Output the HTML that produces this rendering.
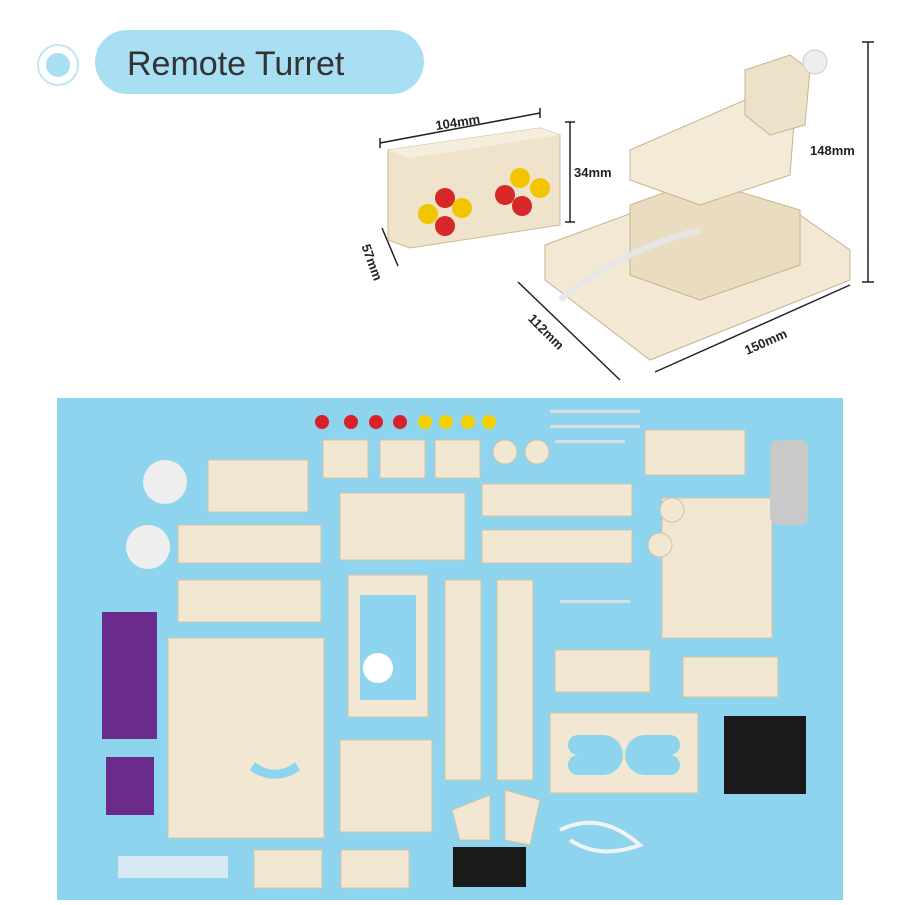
<!DOCTYPE html>
<html><head><meta charset="utf-8"><style>
body{margin:0;background:#fff;width:900px;height:900px;overflow:hidden;font-family:"Liberation Sans",sans-serif}
</style></head><body>
<svg width="900" height="900" viewBox="0 0 900 900" xmlns="http://www.w3.org/2000/svg">
<rect width="900" height="900" fill="#fff"/>
<circle cx="58" cy="65" r="20" fill="#fff" stroke="#bfe6f5" stroke-width="2"/>
<circle cx="58" cy="65" r="12" fill="#a9dff3"/>
<rect x="95" y="30" width="329" height="64" rx="32" fill="#a9dff3"/>
<text x="127" y="75" font-size="34" fill="#333" font-family="Liberation Sans,sans-serif">Remote Turret</text>
<g stroke="#222" stroke-width="1.5">
<line x1="380" y1="143" x2="540" y2="113"/><line x1="380" y1="138" x2="380" y2="148"/><line x1="540" y1="108" x2="540" y2="118"/>
<line x1="570" y1="122" x2="570" y2="222"/><line x1="565" y1="122" x2="575" y2="122"/><line x1="565" y1="222" x2="575" y2="222"/>
<line x1="382" y1="228" x2="398" y2="266"/>
<line x1="868" y1="42" x2="868" y2="282"/><line x1="862" y1="42" x2="874" y2="42"/><line x1="862" y1="282" x2="874" y2="282"/>
<line x1="518" y1="282" x2="620" y2="380"/>
<line x1="655" y1="372" x2="850" y2="285"/>
</g>
<text x="435" y="126" font-size="13" font-weight="bold" fill="#222" transform="rotate(-9 462 120)">104mm</text>
<text x="574" y="177" font-size="13" font-weight="bold" fill="#222">34mm</text>
<text x="360" y="262" font-size="13" font-weight="bold" fill="#222" transform="rotate(70 372 255)">57mm</text>
<text x="810" y="155" font-size="13" font-weight="bold" fill="#222">148mm</text>
<text x="525" y="335" font-size="13" font-weight="bold" fill="#222" transform="rotate(45 545 330)">112mm</text>
<text x="742" y="345" font-size="13" font-weight="bold" fill="#222" transform="rotate(-24 768 338)">150mm</text>
<polygon points="388,150 540,128 560,135 560,225 410,248 388,240" fill="#efe3cb" stroke="#cdb996"/>
<polygon points="388,150 540,128 560,135 410,158" fill="#f6eedd"/>
<circle cx="445" cy="198" r="10" fill="#d62828"/><circle cx="428" cy="214" r="10" fill="#f2c500"/><circle cx="462" cy="208" r="10" fill="#f2c500"/><circle cx="445" cy="226" r="10" fill="#d62828"/>
<circle cx="520" cy="178" r="10" fill="#f2c500"/><circle cx="505" cy="195" r="10" fill="#d62828"/><circle cx="540" cy="188" r="10" fill="#f2c500"/><circle cx="522" cy="206" r="10" fill="#d62828"/>
<polygon points="545,245 640,210 800,215 850,250 850,280 650,360 545,280" fill="#f2e8d4" stroke="#c8b38e"/>
<polygon points="630,205 700,180 800,210 800,265 700,300 630,275" fill="#eadcc0" stroke="#c8b38e"/>
<polygon points="630,150 745,100 795,110 790,175 700,205 630,180" fill="#f3ead7" stroke="#c8b38e"/>
<polygon points="745,70 790,55 810,70 805,125 770,135 745,115" fill="#ede1c8" stroke="#c8b38e"/>
<circle cx="815" cy="62" r="12" fill="#eee" stroke="#ccc"/>
<path d="M560 300 Q620 250 700 230" stroke="#e6e6e6" stroke-width="6" fill="none"/>
<rect x="57" y="398" width="786" height="502" fill="#8fd4ef"/>
<g fill="#f1e7d2" stroke="#d4c3a2" stroke-width="1">
<rect x="208" y="460" width="100" height="52"/><rect x="178" y="525" width="143" height="38"/><rect x="178" y="580" width="143" height="42"/>
<rect x="340" y="493" width="125" height="67"/><rect x="348" y="575" width="80" height="142"/>
<rect x="168" y="638" width="156" height="200"/><rect x="340" y="740" width="92" height="92"/>
<rect x="445" y="580" width="36" height="200"/><rect x="497" y="580" width="36" height="200"/>
<rect x="482" y="484" width="150" height="32"/><rect x="482" y="530" width="150" height="33"/>
<rect x="645" y="430" width="100" height="45"/><rect x="662" y="498" width="110" height="140"/>
<rect x="555" y="650" width="95" height="42"/><rect x="683" y="657" width="95" height="40"/>
<rect x="550" y="713" width="148" height="80"/>
<rect x="254" y="850" width="68" height="38"/><rect x="341" y="850" width="68" height="38"/>
<rect x="323" y="440" width="45" height="38"/><rect x="380" y="440" width="45" height="38"/><rect x="435" y="440" width="45" height="38"/>
<circle cx="505" cy="452" r="12"/><circle cx="537" cy="452" r="12"/><circle cx="672" cy="510" r="12"/><circle cx="660" cy="545" r="12"/>
<polygon points="452,810 490,795 490,840 460,840"/><polygon points="505,790 540,800 530,845 505,840"/>
</g>
<g fill="#8fd4ef"><rect x="360" y="595" width="56" height="105"/>
<path d="M578 735 h25 a20 20 0 0 1 0 40 h-25 a10 10 0 0 1 0 -20 a10 10 0 0 1 0 -20 z"/>
<path d="M645 735 h25 a10 10 0 0 1 0 20 a10 10 0 0 1 0 20 h-25 a20 20 0 0 1 0 -40 z"/>
<path d="M250 770 a40 40 0 0 0 50 0 l-5 -8 a30 30 0 0 1 -40 0 z"/>
</g>
<circle cx="378" cy="668" r="15" fill="#fff"/>
<circle cx="322" cy="422" r="7" fill="#d8202a"/><circle cx="351" cy="422" r="7" fill="#d8202a"/><circle cx="376" cy="422" r="7" fill="#d8202a"/><circle cx="400" cy="422" r="7" fill="#d8202a"/>
<circle cx="425" cy="422" r="7" fill="#f4d000"/><circle cx="446" cy="422" r="7" fill="#f4d000"/><circle cx="468" cy="422" r="7" fill="#f4d000"/><circle cx="489" cy="422" r="7" fill="#f4d000"/>
<rect x="102" y="612" width="55" height="127" fill="#6a2b8a"/><rect x="106" y="757" width="48" height="58" fill="#6a2b8a"/>
<circle cx="165" cy="482" r="22" fill="#eee"/><circle cx="148" cy="547" r="22" fill="#eee"/>
<rect x="770" y="440" width="38" height="85" rx="8" fill="#c9c9c9"/>
<rect x="724" y="716" width="82" height="78" fill="#1a1a1a"/>
<rect x="453" y="847" width="73" height="40" fill="#1a1a1a"/>
<rect x="118" y="856" width="110" height="22" fill="#e8eef2" opacity=".8"/>
<path d="M560 830 Q600 810 640 845 Q600 860 570 840" stroke="#f2f2f2" stroke-width="4" fill="none"/>
<g fill="#ddd"><rect x="550" y="410" width="90" height="3"/><rect x="550" y="425" width="90" height="3"/><rect x="555" y="440" width="70" height="3"/><rect x="560" y="600" width="70" height="3"/></g>
</svg>
</body></html>
